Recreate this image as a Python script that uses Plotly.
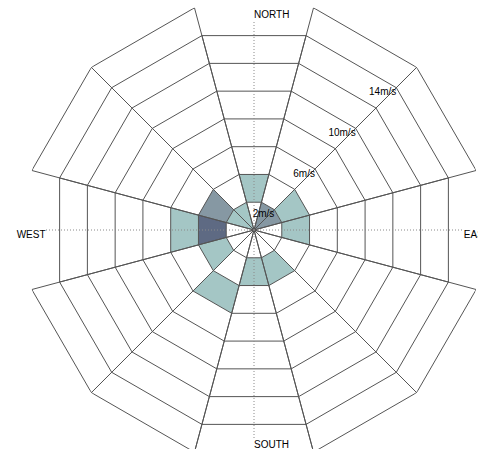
import plotly.graph_objects as go

# ---------------- data ----------------
directions = [0, 30, 60, 90, 120, 150, 180, 210, 240, 270, 300, 330]
sector_width = 30          # degrees per direction sector
speed_step = 2             # m/s per ring

# frequency (%) per speed bin (0-2, 2-4, 4-6, ... m/s) for each direction
freq_000 = [0, 6, 0, 0, 0, 0, 0]
freq_030 = [10, 0, 0, 0, 0, 0, 0, 0]
freq_060 = [10, 6, 0, 0, 0, 0, 0, 0]
freq_090 = [0, 6, 0, 0, 0, 0, 0]
freq_120 = [0, 0, 0, 0, 0, 0, 0, 0]
freq_150 = [0, 6, 0, 0, 0, 0, 0, 0]
freq_180 = [0, 6, 0, 0, 0, 0, 0, 0]
freq_210 = [0, 0, 6, 0, 0, 0, 0, 0]
freq_240 = [0, 6, 0, 0, 0, 0, 0, 0]
freq_270 = [0, 15, 6, 0, 0, 0, 0]
freq_300 = [6, 10, 0, 0, 0, 0, 0, 0]
freq_330 = [6, 0, 0, 0, 0, 0, 0, 0]
freq_by_dir = [freq_000, freq_030, freq_060, freq_090, freq_120, freq_150,
               freq_180, freq_210, freq_240, freq_270, freq_300, freq_330]

level_bounds = [3, 9, 13]
level_colors = [None, "#a4c6c5", "#8698a3", "#5e6a83"]

speed_label_values = [2, 6, 10, 14]
speed_labels = ["2m/s", "6m/s", "10m/s", "14m/s"]
label_angle = 45

compass_labels = ["NORTH", "EAST", "SOUTH", "WEST"]
compass_angles = [0, 90, 180, 270]

# ---------------- figure ----------------
VIEW_W, VIEW_H = 478, 449      # visible window
W, H = 490, 465                # full drawing (chart runs past the window edges)
cx, cy = 254, 230
R_px = 230
r_range = 16
px_per_unit = R_px / r_range

FONT = "Liberation Sans, Arial, sans-serif"
GRID = "#555555"

fig = go.Figure()


def level_of(v):
    lvl = 0
    for b in level_bounds:
        if v >= b:
            lvl += 1
    return lvl


# colored cells
for d, freqs in zip(directions, freq_by_dir):
    t0, t1 = d - sector_width / 2, d + sector_width / 2
    for i, v in enumerate(freqs):
        lvl = level_of(v)
        if lvl == 0:
            continue
        r0, r1 = i * speed_step, (i + 1) * speed_step
        fig.add_trace(go.Scatterpolar(
            r=[r0, r1, r1, r0, r0], theta=[t0, t0, t1, t1, t0],
            mode="lines", fill="toself", fillcolor=level_colors[lvl],
            line=dict(width=0, color=level_colors[lvl]),
            hoverinfo="skip", showlegend=False))

# grid: radial boundaries and straight ring chords
gr, gt = [], []
for d, freqs in zip(directions, freq_by_dir):
    n = len(freqs)
    t0, t1 = d - sector_width / 2, d + sector_width / 2
    rmax = n * speed_step
    gr += [0, rmax, None, 0, rmax, None]
    gt += [t0, t0, None, t1, t1, None]
    for k in range(1, n + 1):
        gr += [k * speed_step, k * speed_step, None]
        gt += [t0, t1, None]
fig.add_trace(go.Scatterpolar(
    r=gr, theta=gt, mode="lines", line=dict(color=GRID, width=1),
    hoverinfo="skip", showlegend=False))

# dotted compass lines
dr, dt = [], []
for a in compass_angles:
    dr += [0, 14.6, None]
    dt += [a, a, None]
fig.add_trace(go.Scatterpolar(
    r=dr, theta=dt, mode="lines",
    line=dict(color="#8a8a8a", width=1, dash="1px,2px"),
    hoverinfo="skip", showlegend=False))

# speed labels along the 45 deg boundary
fig.add_trace(go.Scatterpolar(
    r=speed_label_values, theta=[label_angle] * len(speed_label_values),
    mode="text", text=speed_labels, textposition="bottom left",
    textfont=dict(family=FONT, size=10, color="#000"),
    hoverinfo="skip", showlegend=False))

# compass labels
compass_r = [14.94, 14.6, 15.0, 14.5]
compass_pos = ["middle right", "bottom right", "middle right", "bottom left"]
for lab, a, rr, pos in zip(compass_labels, compass_angles, compass_r, compass_pos):
    fig.add_trace(go.Scatterpolar(
        r=[rr], theta=[a], mode="text", text=[lab], textposition=pos,
        textfont=dict(family=FONT, size=10, color="#000"),
        hoverinfo="skip", showlegend=False))

fig.update_layout(
    width=W, height=H, autosize=False,
    margin=dict(l=0, r=0, t=0, b=0, pad=0),
    paper_bgcolor="white", plot_bgcolor="white",
    showlegend=False,
    polar=dict(
        domain=dict(x=[(cx - R_px) / W, (cx + R_px) / W],
                    y=[(H - cy - R_px) / H, (H - cy + R_px) / H]),
        bgcolor="rgba(0,0,0,0)",
        radialaxis=dict(range=[0, r_range], visible=False),
        angularaxis=dict(rotation=90, direction="clockwise", visible=False),
    ),
)

# the chart runs past the window on the right and bottom, as in the reference:
# crop the page to the window size without scrollbars
post = (
    "var gd=document.getElementById('{plot_id}');"
    "var p=gd.parentElement;"
    "p.style.width='%dpx';p.style.height='%dpx';p.style.overflow='hidden';"
    "document.body.style.margin='0';document.body.style.overflow='hidden';"
    "document.documentElement.style.overflow='hidden';"
) % (VIEW_W, VIEW_H)

fig.write_html("out.html", post_script=post)
